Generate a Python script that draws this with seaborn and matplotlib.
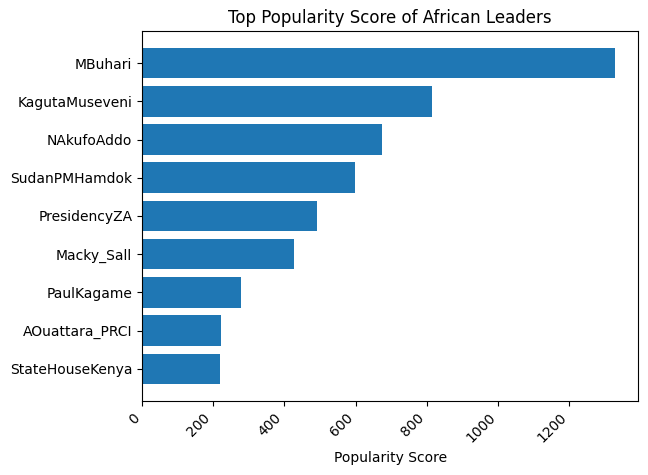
import pandas as pd
import matplotlib
matplotlib.use("Agg")
import matplotlib.pyplot as plt
import seaborn as sns

# Leaders and their popularity scores
leaders = ['MBuhari', 'KagutaMuseveni', 'NAkufoAddo', 'SudanPMHamdok', 'PresidencyZA',
           'Macky_Sall', 'PaulKagame', 'AOuattara_PRCI', 'StateHouseKenya']
scores = [1328, 814, 674, 598, 491, 426, 277, 221, 218]

df = pd.DataFrame({'Leader': leaders, 'Score': scores})

fig, ax = plt.subplots(figsize=(6.48, 4.75), dpi=100)
sns.barplot(x='Score', y='Leader', data=df, orient='h', color='#1f77b4',
            saturation=1, width=0.8, ax=ax)

# matplotlib-style margins on the category axis
n = len(leaders)
pad = 0.05 * (n - 0.2)
ax.set_ylim(n - 0.6 + pad, -0.4 - pad)
ax.set_xlim(0, max(scores) * 1.05)

ax.set_title("Top Popularity Score of African Leaders")
ax.set_xlabel("Popularity Score")
ax.set_ylabel("")
plt.setp(ax.get_xticklabels(), rotation=45, ha='right')

fig.subplots_adjust(left=0.2191, right=0.985, top=0.9347, bottom=0.156)
fig.savefig("out.png", dpi=100)
